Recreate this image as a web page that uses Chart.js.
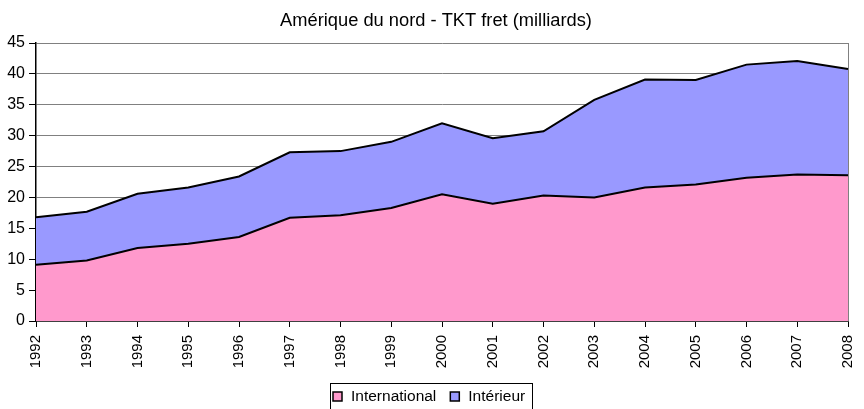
<!DOCTYPE html>
<html>
<head>
<meta charset="utf-8">
<script src="https://cdn.jsdelivr.net/npm/chart.js@4.4.1/dist/chart.umd.min.js"></script>
<style>
html,body{margin:0;padding:0;background:#fff;}
#wrap{width:864px;height:409px;}
</style>
</head>
<body>
<div id="wrap"><canvas id="c" width="864" height="409"></canvas></div>
<script>
const years = ["1992","1993","1994","1995","1996","1997","1998","1999","2000","2001","2002","2003","2004","2005","2006","2007","2008"];
const international = [9.1, 9.8, 11.8, 12.5, 13.6, 16.7, 17.1, 18.3, 20.5, 19.0, 20.3, 20.0, 21.6, 22.1, 23.2, 23.7, 23.6];
const interieur = [7.7, 7.9, 8.8, 9.1, 9.8, 10.6, 10.4, 10.7, 11.5, 10.6, 10.4, 15.8, 17.5, 16.9, 18.3, 18.4, 17.2];
const yTicks = [0, 5, 10, 15, 20, 25, 30, 35, 40, 45];
const titleText = "Amérique du nord - TKT fret (milliards)";

const FONT = "'Liberation Sans', Arial, sans-serif";

const framePlugin = {
  id: 'frame',
  beforeDatasetsDraw(chart) {
    const {ctx, chartArea} = chart;
    ctx.save();
    ctx.strokeStyle = '#808080';
    ctx.lineWidth = 1;
    ctx.beginPath();
    ctx.moveTo(chartArea.right + 0.5, chartArea.top);
    ctx.lineTo(chartArea.right + 0.5, chartArea.bottom);
    ctx.stroke();
    ctx.restore();
  },
  afterDraw(chart) {
    const {ctx, chartArea} = chart;
    const ds = chart.data.datasets;
    ctx.save();
    // title
    ctx.font = "18.3px " + FONT;
    ctx.fillStyle = '#000';
    ctx.textAlign = 'center';
    ctx.textBaseline = 'middle';
    ctx.fillText(titleText, 436, 21);
    // legend
    ctx.font = "15.5px " + FONT;
    const sq = 9, gapText = 9, gapItem = 14, padL = 3, padR = 7;
    let total = padL + padR;
    const widths = ds.map(d => ctx.measureText(d.label).width);
    ds.forEach((d, i) => { total += sq + gapText + widths[i] + (i < ds.length - 1 ? gapItem : 0); });
    const cx = 431.5;
    const left = Math.round(cx - total / 2);
    const top = Math.round(chartArea.bottom + 62);
    const h = 26;
    ctx.strokeStyle = '#000';
    ctx.lineWidth = 1;
    ctx.strokeRect(left + 0.5, top + 0.5, Math.round(total), h);
    let x = left + padL;
    const cy = top + h / 2 + 0.5;
    ds.forEach((d, i) => {
      ctx.fillStyle = d.backgroundColor;
      ctx.fillRect(x, Math.round(cy - sq / 2), sq, sq);
      ctx.strokeStyle = '#000';
      ctx.lineWidth = 1.5;
      ctx.strokeRect(x, Math.round(cy - sq / 2), sq, sq);
      x += sq + gapText;
      ctx.fillStyle = '#000';
      ctx.textBaseline = 'middle';
      ctx.textAlign = 'left';
      ctx.fillText(d.label, x, cy);
      x += widths[i] + gapItem;
    });
    ctx.restore();
  }
};

new Chart(document.getElementById('c'), {
  type: 'line',
  data: {
    labels: years,
    datasets: [
      { label: 'International', data: international, backgroundColor: '#FF99CC', borderColor: '#000', borderWidth: 2, fill: 'origin', pointRadius: 0, tension: 0 },
      { label: 'Intérieur', data: interieur, backgroundColor: '#9999FF', borderColor: '#000', borderWidth: 2, fill: '-1', pointRadius: 0, tension: 0 }
    ]
  },
  options: {
    responsive: false,
    animation: false,
    layout: { padding: { left: 0, right: 16, top: 43, bottom: 38 } },
    plugins: {
      title: { display: false },
      legend: { display: false },
      tooltip: { enabled: false }
    },
    scales: {
      x: {
        offset: false,
        afterFit(scale) { scale.height = 50; scale.paddingLeft = 0; scale.paddingRight = 0; },
        grid: { drawOnChartArea: false, drawTicks: true, tickLength: 6, tickColor: '#000' },
        border: { color: '#000', width: 1.5 },
        ticks: { color: '#000', font: { family: FONT, size: 15 }, minRotation: 90, maxRotation: 90, autoSkip: false, padding: 8 }
      },
      y: {
        stacked: true, min: 0, max: 45,
        afterFit(scale) { scale.width = 36; scale.paddingTop = 0; scale.paddingBottom = 0; },
        afterBuildTicks(scale) { scale.ticks = yTicks.map(v => ({ value: v })); },
        grid: { color: '#808080', tickColor: '#000', tickLength: 7 },
        border: { color: '#000', width: 1.5 },
        ticks: { color: '#000', font: { family: FONT, size: 16 }, padding: 4 }
      }
    }
  },
  plugins: [framePlugin]
});
</script>
</body>
</html>
